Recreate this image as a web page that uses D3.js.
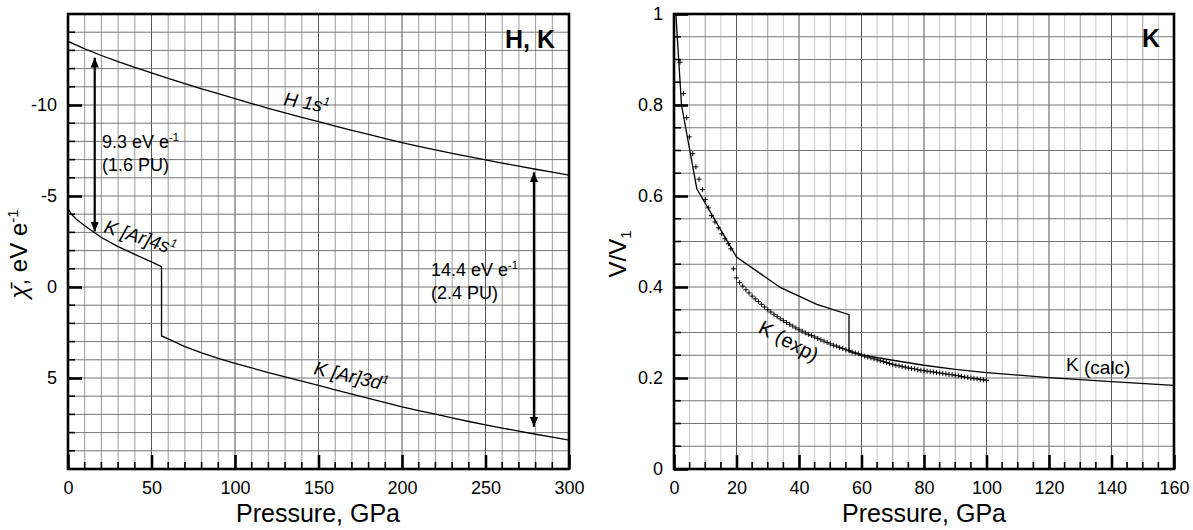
<!DOCTYPE html>
<html><head><meta charset="utf-8">
<script src="https://cdn.jsdelivr.net/npm/d3@7"></script>
<style>
body{margin:0;background:#fff}
text{font-family:"Liberation Sans",Arial,Helvetica,sans-serif;fill:#000}
</style>
</head><body>
<svg id="chart" width="1193" height="530"></svg>
<script>
// ---------------- DATA ----------------
// Left panel: electronegativity-like chi (eV e^-1) vs pressure (GPa)
const hPressure = [0,10,20,30,40,50,60,70,80,90,100,110,120,130,140,150,160,170,180,190,200,210,220,230,240,250,260,270,280,290,300];
const hChi      = [-13.5,-13.08,-12.72,-12.38,-12.07,-11.76,-11.46,-11.17,-10.89,-10.62,-10.35,-10.08,-9.82,-9.57,-9.32,-9.08,-8.84,-8.61,-8.38,-8.15,-7.93,-7.73,-7.53,-7.34,-7.16,-6.98,-6.81,-6.64,-6.47,-6.31,-6.15];
const kPressure = [0,2,5,10,20,30,40,50,56,56,60,70,80,90,100,110,120,130,140,150,160,170,180,190,200,210,220,230,240,250,260,270,280,290,300];
const kChi      = [-4.3,-4.0,-3.72,-3.36,-2.72,-2.22,-1.79,-1.38,-1.12,2.69,2.85,3.28,3.62,3.92,4.19,4.45,4.70,4.94,5.17,5.41,5.65,5.88,6.12,6.35,6.58,6.79,6.99,7.19,7.39,7.58,7.75,7.92,8.09,8.25,8.41];
const leftXTicks = [0,50,100,150,200,250,300];
const leftYTicks = [-10,-5,0,5];
// annotation arrows (pressure, from chi, to chi)
const arrowPressure = [16, 279];
const arrowFrom = [-12.6, -6.3];
const arrowTo   = [-3.05, 7.68];

// Right panel: V/V1 vs pressure (GPa)
const calcPressure = [0.6,2.4,7.3,20,34,45.7,56,56,60,70,80,90,100,120,140,160];
const calcVolume   = [1.0,0.8,0.616,0.466,0.399,0.362,0.339,0.259,0.251,0.239,0.228,0.219,0.212,0.201,0.192,0.184];
const expPressure = [1.9,3.0,4.05,4.9,6.0,7.0,8.0,9.1,10.0,11,12,13.1,14.2,15.3,16.3,17.4,18.2,19,
  20,21,22,23,24,25,26,27,28,29,30,31,32,33,34,35,36,37,38,39,40,41,42,43,44,45,46,47,48,49,50,
  51,52,53,54,55,56,57,58,59,60,61,62,63,64,65,66,67,68,69,70,71,72,73,74,75,76,77,78,79,80,
  81,82,83,84,85,86,87,88,89,90,91,92,93,94,95,96,97,98,99,100];
const expVolume = [0.894,0.825,0.772,0.73,0.693,0.664,0.637,0.614,0.592,0.574,0.557,0.543,0.53,0.517,0.506,0.495,0.484,0.44,
  0.42,0.41,0.402,0.394,0.387,0.38,0.374,0.368,0.362,0.356,0.35,0.345,0.34,0.335,0.33,0.326,0.322,0.318,0.314,0.31,0.306,0.303,0.299,0.296,0.293,0.29,0.287,0.284,0.281,0.278,0.275,
  0.272,0.27,0.267,0.265,0.262,0.26,0.257,0.255,0.253,0.25,0.248,0.246,0.244,0.242,0.24,0.238,0.236,0.234,0.232,0.23,0.228,0.227,0.225,0.224,0.222,0.221,0.22,0.218,0.217,0.216,
  0.215,0.214,0.213,0.212,0.211,0.21,0.209,0.208,0.207,0.206,0.205,0.203,0.202,0.201,0.2,0.199,0.198,0.197,0.196,0.195];
const rightXTicks = [0,20,40,60,80,100,120,140,160];
const rightYTicks = [0,0.2,0.4,0.6,0.8,1];

// ---------------- DRAW ----------------
const svg = d3.select("#chart");
const FONT = 18;

const defs = svg.append("defs");
defs.append("marker").attr("id","ah").attr("viewBox","0 0 10 10").attr("refX",10).attr("refY",5)
  .attr("markerWidth",4.5).attr("markerHeight",4.5).attr("markerUnits","strokeWidth").attr("orient","auto-start-reverse")
  .append("path").attr("d","M0,0.8L10,5L0,9.2Z").attr("fill","#000");

function panel(opt){
  const g = svg.append("g");
  const x = d3.scaleLinear().domain(opt.xDomain).range([opt.left, opt.right]);
  const y = d3.scaleLinear().domain(opt.yDomain).range(opt.yRange);
  const [top, bottom] = [opt.top, opt.bottom];

  const grid = g.append("g");
  opt.xGrid.forEach(v=>{
    grid.append("line").attr("x1",x(v)).attr("x2",x(v)).attr("y1",top).attr("y2",bottom)
      .attr("stroke",opt.xGridColor(v)).attr("stroke-width",1);
  });
  opt.yGrid.forEach(v=>{
    grid.append("line").attr("x1",opt.left).attr("x2",opt.right).attr("y1",y(v)).attr("y2",y(v))
      .attr("stroke","#777").attr("stroke-width",1);
  });

  opt.xMinor.forEach(v=>{
    g.append("line").attr("x1",x(v)).attr("x2",x(v)).attr("y1",bottom).attr("y2",bottom-7)
      .attr("stroke","#000").attr("stroke-width",1.6);
  });
  opt.yMinor.forEach(v=>{
    g.append("line").attr("x1",opt.left).attr("x2",opt.left+7).attr("y1",y(v)).attr("y2",y(v))
      .attr("stroke","#000").attr("stroke-width",1.6);
  });

  const ax = g.append("g").attr("transform",`translate(0,${bottom})`)
    .call(d3.axisBottom(x).tickValues(opt.xTicks).tickSizeInner(-14).tickSizeOuter(0).tickPadding(12).tickFormat(d=>String(d)));
  const ay = g.append("g").attr("transform",`translate(${opt.left},0)`)
    .call(d3.axisLeft(y).tickValues(opt.yTicks).tickSizeInner(-14).tickSizeOuter(0).tickPadding(11).tickFormat(opt.yFormat));
  [ax,ay].forEach(a=>{
    a.select(".domain").remove();
    a.selectAll("line").attr("stroke","#000").attr("stroke-width",2.6);
    a.selectAll("text").attr("font-size",FONT).attr("font-family",'"Liberation Sans",Arial,sans-serif').attr("fill","#000");
  });
  return {g,x,y};
}

// ---------- Left panel ----------
const L = panel({
  left:68, right:569, top:14, bottom:469,
  xDomain:[0,300], yDomain:[-15,10], yRange:[14,469],
  xGrid:d3.range(10,300,10), xGridColor:v=> v%50===0 ? "#555" : "#999",
  yGrid:d3.range(-14,10,1),
  xMinor:d3.range(10,300,10).filter(v=>v%50!==0),
  yMinor:d3.range(-14,10,1).filter(v=>v%5!==0),
  xTicks:leftXTicks, yTicks:leftYTicks, yFormat:d=>String(d)
});
const lineL = d3.line().x(d=>L.x(d[0])).y(d=>L.y(d[1]));
L.g.append("path").attr("d",lineL(d3.zip(hPressure,hChi))).attr("fill","none").attr("stroke","#000").attr("stroke-width",1.3);
L.g.append("path").attr("d",lineL(d3.zip(kPressure,kChi))).attr("fill","none").attr("stroke","#000").attr("stroke-width",1.3);
arrowPressure.forEach((p,i)=>{
  L.g.append("line").attr("x1",L.x(p)).attr("x2",L.x(p)).attr("y1",L.y(arrowFrom[i])).attr("y2",L.y(arrowTo[i]))
    .attr("stroke","#000").attr("stroke-width",2.2).attr("marker-start","url(#ah)").attr("marker-end","url(#ah)");
});
L.g.append("rect").attr("x",68).attr("y",14).attr("width",501).attr("height",455).attr("fill","none").attr("stroke","#000").attr("stroke-width",2.6);

function supText(g, x, y, main, sup, size, opts={}){
  const t = g.append("text").attr("x",x).attr("y",y).attr("font-size",size);
  if(opts.rotate!==undefined) t.attr("transform",`rotate(${opts.rotate},${x},${y})`);
  if(opts.italic) t.attr("font-style","italic");
  t.append("tspan").text(main);
  if(sup) t.append("tspan").attr("font-size",size*0.62).attr("dy",-size*0.38).text(sup);
  return t;
}
supText(svg,102,148,"9.3 eV e","-1",18);
svg.append("text").attr("x",102).attr("y",171).attr("font-size",18).text("(1.6 PU)");
supText(svg,431,276,"14.4 eV e","-1",18);
svg.append("text").attr("x",431).attr("y",299).attr("font-size",18).text("(2.4 PU)");
supText(svg,283,105,"H 1s","1",19,{rotate:10,italic:true});
supText(svg,103,232,"K [Ar]4s","1",19,{rotate:18,italic:true});
supText(svg,313,374,"K [Ar]3d","1",19,{rotate:13,italic:true});
svg.append("text").attr("x",555).attr("y",48).attr("text-anchor","end").attr("font-size",25).attr("font-weight","bold").text("H, K");

svg.append("text").attr("x",318).attr("y",522).attr("text-anchor","middle").attr("font-size",25).text("Pressure, GPa");
{
  const t = svg.append("text").attr("transform","translate(27,254) rotate(-90)").attr("text-anchor","middle").attr("font-size",24);
  t.append("tspan").attr("font-style","italic").text("\u03C7\u0304");
  t.append("tspan").text(", eV e");
  t.append("tspan").attr("font-size",15).attr("dy",-9).text("-1");
}

// ---------- Right panel ----------
const R = panel({
  left:674, right:1174, top:14, bottom:469,
  xDomain:[0,160], yDomain:[0,1], yRange:[469,14],
  xGrid:d3.range(5,160,5), xGridColor:v=> v%20===0 ? "#555" : (v%10===0 ? "#999" : "#c8c8c8"),
  yGrid:d3.range(1,20,1).map(i=>i*0.05),
  xMinor:d3.range(5,160,5).filter(v=>v%20!==0),
  yMinor:d3.range(1,20,1).filter(i=>i%4!==0).map(i=>i*0.05),
  xTicks:rightXTicks, yTicks:rightYTicks, yFormat:d=> d===0||d===1 ? String(d) : d3.format(".1f")(d)
});
const lineR = d3.line().x(d=>R.x(d[0])).y(d=>R.y(d[1]));
R.g.append("path").attr("d",lineR(d3.zip(calcPressure,calcVolume))).attr("fill","none").attr("stroke","#000").attr("stroke-width",1.3);
R.g.append("g").selectAll("path").data(d3.zip(expPressure,expVolume)).join("path")
  .attr("transform",d=>`translate(${R.x(d[0])},${R.y(d[1])})`)
  .attr("d","M-2.5,0H2.5M0,-2.5V2.5").attr("stroke","#000").attr("stroke-width",1);
R.g.append("rect").attr("x",674).attr("y",14).attr("width",500).attr("height",455).attr("fill","none").attr("stroke","#000").attr("stroke-width",2.6);

svg.append("text").attr("x",1160).attr("y",47).attr("text-anchor","end").attr("font-size",25).attr("font-weight","bold").text("K");
svg.append("text").attr("x",757).attr("y",332).attr("transform","rotate(28,757,332)").attr("font-size",20).text("K (exp)");
svg.append("text").attr("x",1066).attr("y",371).attr("font-size",19).text("K");
svg.append("text").attr("x",1084).attr("y",374).attr("font-size",19).text("(calc)");

svg.append("text").attr("x",924).attr("y",522).attr("text-anchor","middle").attr("font-size",25).text("Pressure, GPa");
{
  const t = svg.append("text").attr("transform","translate(626,254) rotate(-90)").attr("text-anchor","middle").attr("font-size",24);
  t.append("tspan").text("V/V");
  t.append("tspan").attr("font-size",15).attr("dy",5).text("1");
}
</script>
</body></html>
